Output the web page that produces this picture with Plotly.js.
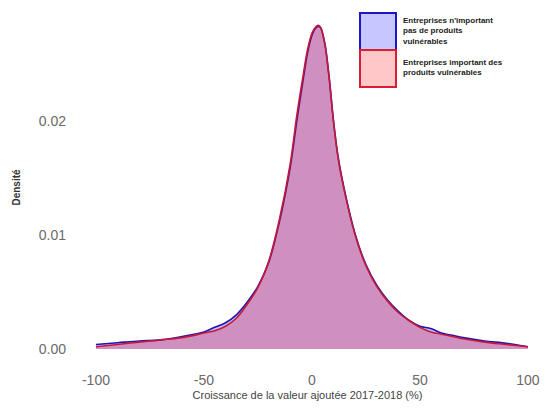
<!DOCTYPE html>
<html>
<head>
<meta charset="utf-8">
<script src="https://cdn.plot.ly/plotly-3.0.1.min.js"></script>
<style>html,body{margin:0;padding:0;background:#fff;}#chart{width:545px;height:412px;}</style>
</head>
<body>
<div id="chart"></div>
<script>
const xGrid = [-100,-90,-80,-70,-60,-50,-45,-40,-35,-30,-25,-20,-15,-10,-7,-4,-2,0,2,3,4,6,8,10,12,15,20,25,30,35,40,45,50,55,60,65,70,80,90,100];
const densNonImport = [0.0004,0.00055,0.0007,0.0008,0.0011,0.0015,0.0019,0.0023,0.0030,0.0041,0.0055,0.0076,0.0112,0.0160,0.0200,0.0237,0.0260,0.0275,0.0282,0.0283,0.0282,0.0268,0.0238,0.0200,0.0170,0.0140,0.0101,0.0074,0.0056,0.0043,0.0033,0.0025,0.0020,0.0018,0.0014,0.0012,0.0010,0.0007,0.0005,0.0002];
const densImport = [0.0002,0.0004,0.0006,0.0008,0.0010,0.0014,0.0016,0.0020,0.0027,0.0039,0.0054,0.0077,0.0114,0.0163,0.0205,0.0241,0.0263,0.0277,0.0283,0.0284,0.0282,0.0267,0.0237,0.0199,0.0169,0.0139,0.0100,0.0073,0.0055,0.0042,0.0032,0.0025,0.0019,0.0015,0.0013,0.0011,0.0009,0.0006,0.0004,0.0002];
const seriesNames = ["Entreprises n'important<br>pas de produits<br>vulnérables", "Entreprises important des<br>produits vulnérables"];
const xTicks = [-100,-50,0,50,100];
const yTicks = [0,0.01,0.02];
const yTickText = ["0.00","0.01","0.02"];

const traces = [
  {x: xGrid, y: densNonImport, type:'scatter', mode:'lines', fill:'tozeroy',
   line:{color:'rgb(35,20,170)', width:1.6, shape:'spline', smoothing:0.9},
   fillcolor:'rgba(0,0,255,0.25)', name: seriesNames[0], showlegend:false},
  {x: xGrid, y: densImport, type:'scatter', mode:'lines', fill:'tozeroy',
   line:{color:'rgb(195,25,60)', width:1.6, shape:'spline', smoothing:0.9},
   fillcolor:'rgba(255,0,0,0.25)', name: seriesNames[1], showlegend:false}
];

const W = 545, H = 412, mL = 75, mR = 5, mT = 15, mB = 52;
const pw = W - mL - mR, ph = H - mT - mB;
function px(x){ return (x - mL)/pw; }
function py(y){ return 1 - (y - mT)/ph; }

const layout = {
  width: W, height: H,
  margin: {l: mL, r: mR, t: mT, b: mB},
  paper_bgcolor: '#fff', plot_bgcolor: '#fff',
  font: {family: 'Liberation Sans, Arial, sans-serif', color: '#555'},
  showlegend: false,
  xaxis: {range: [-109.7, 105.6], tickvals: xTicks, ticktext: xTicks.map(String),
    showgrid: false, zeroline: false, showline: false, ticks: '',
    tickfont: {size: 14, color: '#6a6a6a'}, ticklabelstandoff: 10,
    title: {text: 'Croissance de la valeur ajoutée 2017-2018 (%)', font: {size: 11, color: '#444'}, standoff: 4}},
  yaxis: {range: [-0.000965, 0.0293], tickvals: yTicks, ticktext: yTickText,
    showgrid: false, zeroline: false, showline: false, ticks: '',
    tickfont: {size: 14, color: '#6a6a6a'}, ticklabelstandoff: 8,
    title: {text: '<b>Densité</b>', font: {size: 10, color: '#333'}, standoff: 16}},
  shapes: [
    {type:'rect', xref:'paper', yref:'paper', x0: px(360), x1: px(396), y0: py(50), y1: py(13),
     fillcolor:'rgba(0,0,255,0.22)', line:{color:'rgb(30,20,200)', width:2}},
    {type:'rect', xref:'paper', yref:'paper', x0: px(360), x1: px(396), y0: py(87), y1: py(50),
     fillcolor:'rgba(255,0,0,0.22)', line:{color:'rgb(215,30,50)', width:2}}
  ],
  annotations: [
    {xref:'paper', yref:'paper', x: px(401), y: py(14), xanchor:'left', yanchor:'top', align:'left',
     text: '<b>' + seriesNames[0] + '</b>', showarrow:false, font:{size:8, color:'#222'}},
    {xref:'paper', yref:'paper', x: px(401), y: py(56), xanchor:'left', yanchor:'top', align:'left',
     text: '<b>' + seriesNames[1] + '</b>', showarrow:false, font:{size:8, color:'#222'}}
  ]
};
Plotly.newPlot('chart', traces, layout, {displayModeBar:false, staticPlot:true});
</script>
</body>
</html>
